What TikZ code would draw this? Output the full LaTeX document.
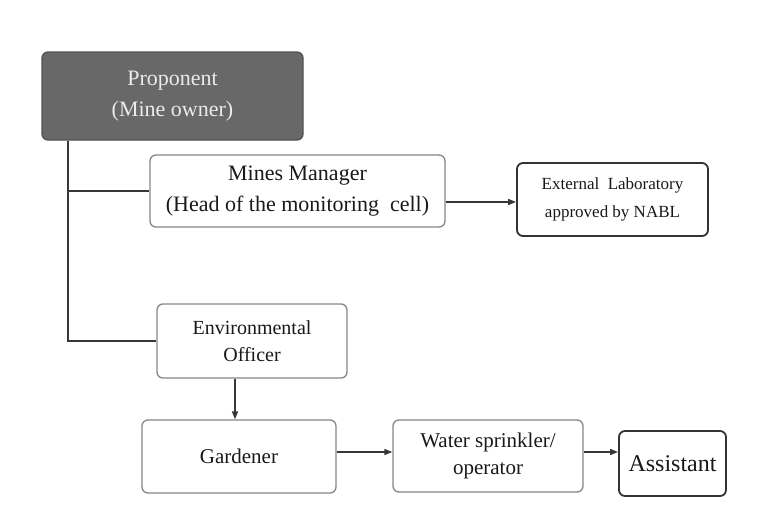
\documentclass[tikz,border=0pt]{standalone}
\usepackage{fontspec}
\setmainfont{Liberation Serif}
\usetikzlibrary{arrows.meta,positioning,calc}
\definecolor{ink}{RGB}{55,55,55}
\definecolor{frame}{RGB}{135,135,135}
\definecolor{boss}{RGB}{104,104,104}
\definecolor{paper}{RGB}{255,255,255}

\begin{document}
\begin{tikzpicture}[x=1pt,y=-1pt,
    box/.style={draw=frame,line width=1.3pt,rounded corners=6pt,fill=paper,
                align=center,inner sep=0pt,text=black!90,
                font=\fontsize{21}{30}\selectfont},
    dark/.style={box,draw=boss!80!black,fill=boss,text=white!92!black,
                 font=\fontsize{22}{31}\selectfont},
    strong/.style={box,draw=black!80,line width=1.8pt},
    ln/.style={draw=ink,line width=1.5pt},
    ar/.style={ln,-{Triangle[length=8pt,width=6pt]}}
  ]
  \useasboundingbox[fill=paper] (0,0) rectangle (776,520);
  % boxes
  \node[dark,minimum width=261pt,minimum height=88pt] (prop) at (172.5,96)
    {Proponent\\(Mine owner)};
  \node[box,minimum width=295pt,minimum height=72pt,
        font=\fontsize{22}{31}\selectfont] (mgr) at (297.5,191)
    {Mines Manager\\(Head of the monitoring\ \ cell)};
  \node[strong,minimum width=191pt,minimum height=73pt,
        font=\fontsize{17}{28}\selectfont] (lab) at (612.5,199.5)
    {External\ \ Laboratory\\approved by NABL};
  \node[box,minimum width=190pt,minimum height=74pt,
        font=\fontsize{20}{27}\selectfont] (env) at (252,341)
    {Environmental\\Officer};
  \node[box,minimum width=194pt,minimum height=73pt] (gard) at (239,456.5)
    {Gardener};
  \node[box,minimum width=190pt,minimum height=72pt,
        font=\fontsize{21}{27}\selectfont] (water) at (488,456)
    {Water sprinkler/\\operator};
  \node[strong,minimum width=107pt,minimum height=65pt,
        font=\fontsize{24}{30}\selectfont] (asst) at (672.5,463.5)
    {Assistant};
  % connectors
  \coordinate (trunk) at (68,0);
  \draw[ln] (trunk |- prop.south) |- (env.west);
  \draw[ln] (trunk |- mgr.west) -- (mgr.west);
  \draw[ar] ($(mgr.east)+(0,11)$) -- (lab.west |- {$(mgr.east)+(0,11)$});
  \draw[ar] ($(gard.north |- env.south)+(-4,0)$) -- ($(gard.north)+(-4,0)$);
  \draw[ar] ($(gard.east)+(0,-4.5)$) -- (water.west |- {$(gard.east)+(0,-4.5)$});
  \draw[ar] ($(water.east)+(0,-4)$) -- (asst.west |- {$(water.east)+(0,-4)$});
\end{tikzpicture}
\end{document}
